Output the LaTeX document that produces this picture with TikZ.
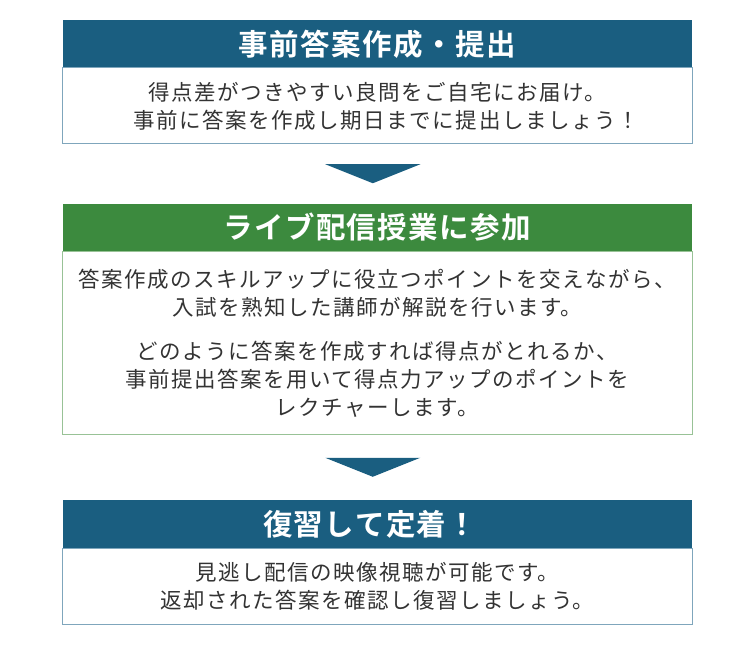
\documentclass[tikz,border=0pt]{standalone}
\usepackage{fontspec}
\setmainfont{Noto Sans CJK JP}[BoldFont={Noto Sans CJK JP Bold}]
\usetikzlibrary{positioning, calc}
\definecolor{stepblue}{HTML}{1A5E80}
\definecolor{stepgreen}{HTML}{3C8A3E}
\definecolor{lineblue}{HTML}{7FA6BC}
\definecolor{linegreen}{HTML}{98C296}
\definecolor{bodytext}{HTML}{333333}
\tikzset{
  head/.style={rectangle, minimum width=629.5pt, minimum height=48pt, inner sep=0pt, outer sep=0pt,
    text=white, font=\bfseries\fontsize{29.5}{34}\selectfont\addfontfeatures{LetterSpace=5}},
  body/.style={rectangle, draw=#1, line width=1pt, fill=white, minimum width=629.5pt, inner sep=0pt,
    outer sep=0pt, align=center, text=bodytext, font=\fontsize{21.5}{28}\selectfont\addfontfeatures{LetterSpace=7}},
  arrowhead/.style={fill=stepblue, draw=none}
}
\begin{document}
\begin{tikzpicture}[x=1pt, y=-1pt]
  \useasboundingbox (0,0) rectangle (750,650);

  % Step 1
  \node[head, fill=stepblue] (H1) at (377.25,44) {事前答案作成・提出};
  \node[body=lineblue, minimum height=76pt, below=0pt of H1] (B1)
    {得点差がつきやすい良問をご自宅にお届け。\\\hspace*{18pt}事前に答案を作成し期日までに提出しましょう！};

  % Step 2
  \node[head, fill=stepgreen] (H2) at (377.25,227.5) {ライブ配信授業に参加};
  \node[body=linegreen, minimum height=183pt, below=0pt of H2] (B2)
    {答案作成のスキルアップに役立つポイントを交えながら、\\入試を熟知した講師が解説を行います。\\[16pt]
     どのように答案を作成すれば得点がとれるか、\\事前提出答案を用いて得点力アップのポイントを\\レクチャーします。};

  % Step 3
  \node[head, fill=stepblue] (H3) at (377.25,524) {復習して定着！\hspace*{14pt}};
  \node[body=lineblue, minimum height=76pt, below=0pt of H3] (B3)
    {見逃し配信の映像視聴が可能です。\\返却された答案を確認し復習しましょう。};

  % Arrows
  \foreach \a/\b in {B1/H2, B2/H3}
    \fill[arrowhead] ($(\a.south)!0.5!(\b.north) + (-52,-9.5)$) -- ++(95,0) -- ++(-47.5,19) -- cycle;
\end{tikzpicture}
\end{document}
